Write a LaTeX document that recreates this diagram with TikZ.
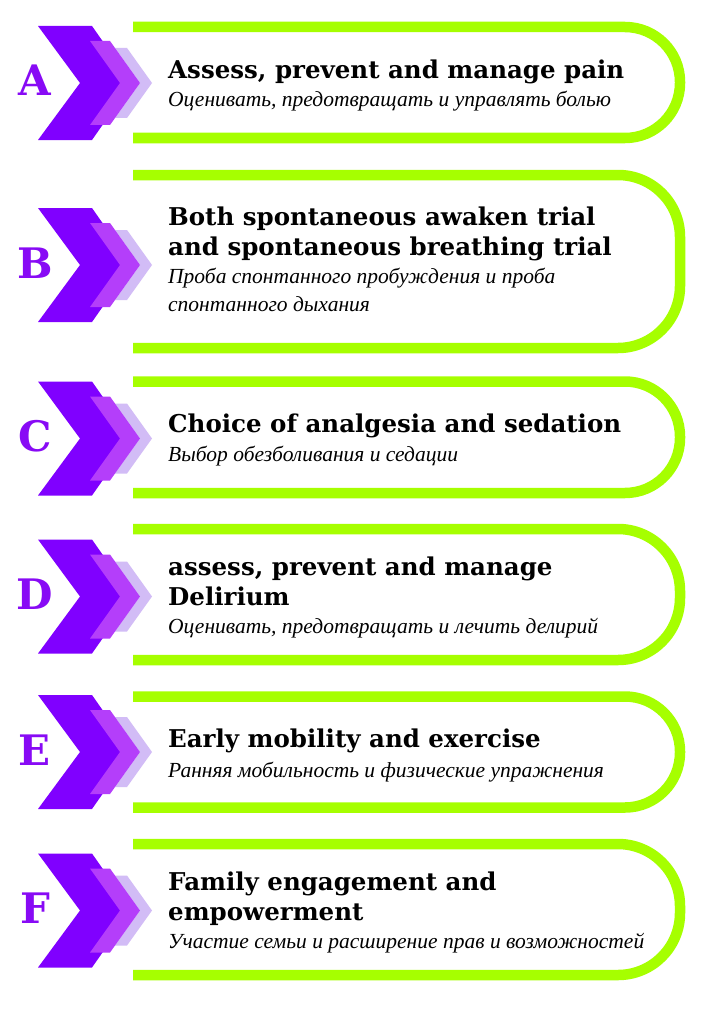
\documentclass[tikz,border=0pt]{standalone}
\usepackage{fontspec}
\setmainfont{DejaVu Serif}
\newfontfamily\rufont{Liberation Serif}
\definecolor{lime}{RGB}{166,255,0}
\definecolor{cdark}{RGB}{128,0,255}
\definecolor{cmid}{RGB}{180,62,250}
\definecolor{clight}{RGB}{210,188,246}
\definecolor{cletter}{RGB}{136,10,245}
\tikzset{
  panel/.style={draw=lime, line width=10.5pt},
  ttl/.style={anchor=base west, inner sep=0pt, font=\bfseries\fontsize{24.5}{30}\selectfont},
  sub/.style={anchor=base west, inner sep=0pt, font=\rufont\itshape\fontsize{21.5}{28}\selectfont},
  letter/.style={anchor=base, inner sep=0pt, text=cletter, font=\bfseries\fontsize{42}{42}\selectfont}
}
\newcommand\drawpanel[3]{%
  \draw[panel, rounded corners=#3] (133,#1) -- (680,#1) -- (680,#2) -- (133,#2);}
\newcommand\chevrons[1]{%
  \fill[cdark] (38,#1-57) -- (92,#1-57) -- (132,#1) -- (92,#1+57) -- (38,#1+57) -- (80,#1) -- cycle;
  \fill[clight] (115,#1-35) -- (127,#1-35) -- (152,#1) -- (127,#1+35) -- (115,#1+35) -- (140,#1) -- cycle;
  \fill[cmid] (90,#1-42) -- (110,#1-42) -- (140,#1) -- (110,#1+42) -- (90,#1+42) -- (120,#1) -- cycle;}
\begin{document}
\begin{tikzpicture}[x=1pt,y=-1pt]
\useasboundingbox[fill=white] (0,0) rectangle (715,1014);
% A
\drawpanel{27}{138}{55}
\chevrons{83}
\node[letter] (LA) at (35,96) {A};
\node[ttl] (tA) at (168,79) {Assess, prevent and manage pain};
\node[sub] (sA) at (168,107) {Оценивать, предотвращать и управлять болью};
% B
\drawpanel{175}{348}{62}
\chevrons{265}
\node[letter] (LB) at (35,278) {B};
\node[ttl] (tB1) at (168,225) {Both spontaneous awaken trial};
\node[ttl] (tB2) at (168,255) {and spontaneous breathing trial};
\node[sub] (sB1) at (168,283) {Проба спонтанного пробуждения и проба};
\node[sub] (sB2) at (168,311) {спонтанного дыхания};
% C
\drawpanel{381.5}{493}{55}
\chevrons{438.5}
\node[letter] (LC) at (35,451.5) {C};
\node[ttl] (tC) at (168,432) {Choice of analgesia and sedation};
\node[sub] (sC) at (168,461) {Выбор обезболивания и седации};
% D
\drawpanel{529}{660}{62}
\chevrons{596.5}
\node[letter] (LD) at (35,609.5) {D};
\node[ttl] (tD1) at (168,575) {assess, prevent and manage};
\node[ttl] (tD2) at (168,605) {Delirium};
\node[sub] (sD) at (168,633) {Оценивать, предотвращать и лечить делирий};
% E
\drawpanel{696.5}{807.5}{55}
\chevrons{752}
\node[letter] (LE) at (35,765) {E};
\node[ttl] (tE) at (168,747) {Early mobility and exercise};
\node[sub] (sE) at (168,777) {Ранняя мобильность и физические упражнения};
% F
\drawpanel{844}{975}{62}
\chevrons{910.5}
\node[letter] (LF) at (35,923.5) {F};
\node[ttl] (tF1) at (168,890) {Family engagement and};
\node[ttl] (tF2) at (168,920) {empowerment};
\node[sub] (sF) at (168,948) {Участие семьи и расширение прав и возможностей};
\end{tikzpicture}
\end{document}
